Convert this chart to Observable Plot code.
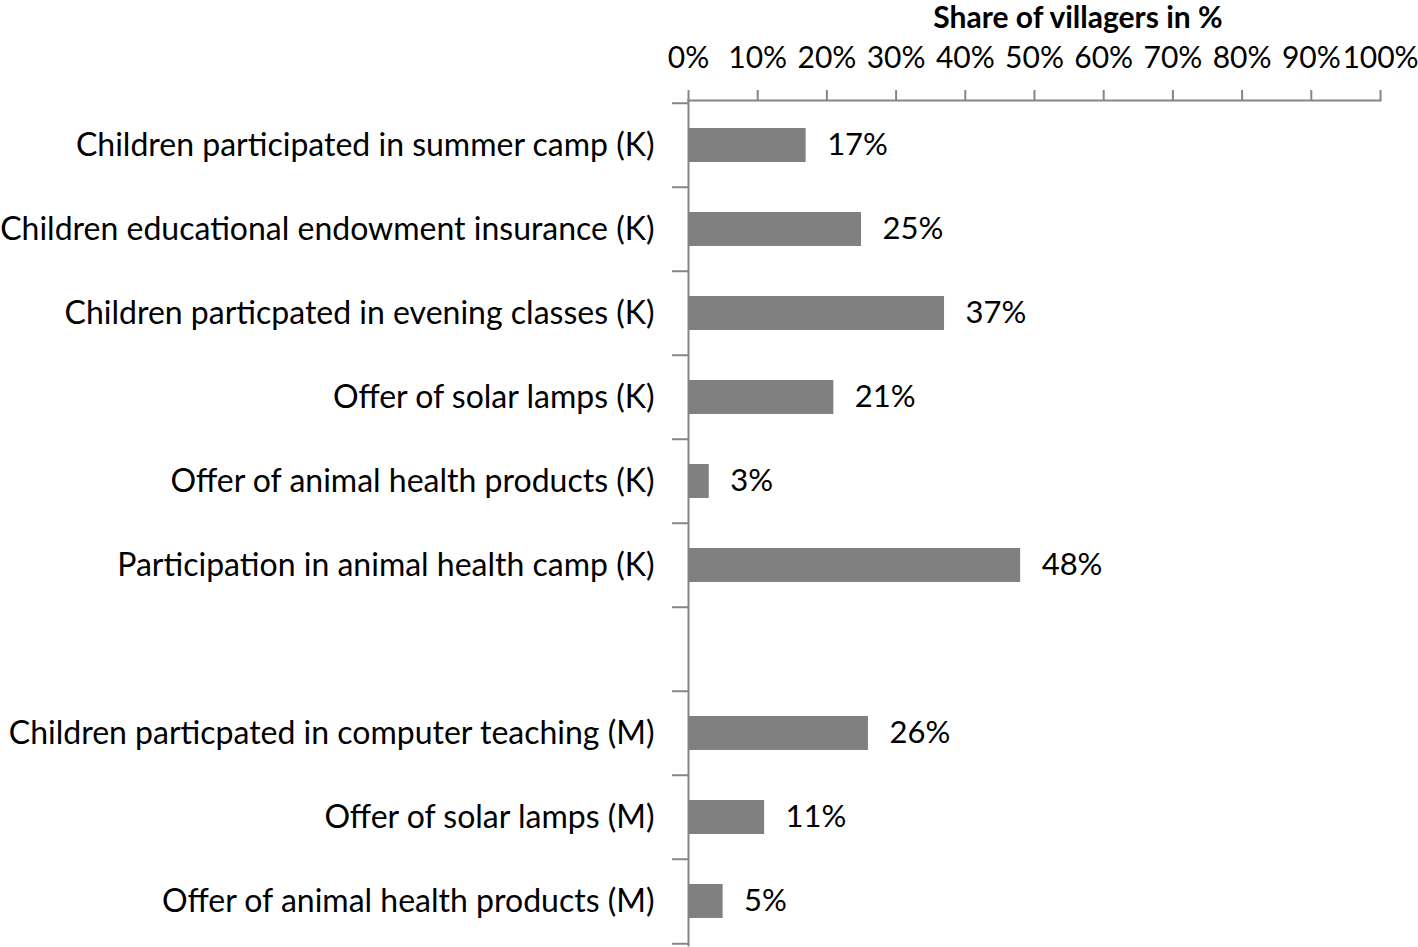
<!DOCTYPE html>
<html>
<head>
<meta charset="utf-8">
<script src="https://cdn.jsdelivr.net/npm/d3@7"></script>
<script src="https://cdn.jsdelivr.net/npm/@observablehq/plot@0.6"></script>
<style>
  html, body { margin: 0; padding: 0; background: #fff; }
  #chart { position: relative; width: 1418px; height: 947px; }
  #title { position: absolute; left: 738px; width: 680px; top: 0px; text-align: center; z-index: 2; line-height: 38px;
           font-family: Lato, sans-serif; font-weight: bold; font-size: 30px; color: #000; margin-top: -3px; }
</style>
</head>
<body>
<div id="chart"><div id="title">Share of villagers in %</div></div>
<script>
const categories = [
  "Children participated in summer camp (K)",
  "Children educational endowment insurance (K)",
  "Children particpated in evening classes (K)",
  "Offer of solar lamps (K)",
  "Offer of animal health products (K)",
  "Participation in animal health camp (K)",
  "",
  "Children particpated in computer teaching (M)",
  "Offer of solar lamps (M)",
  "Offer of animal health products (M)"
];
const values = [0.17, 0.25, 0.37, 0.21, 0.03, 0.48, null, 0.26, 0.11, 0.05];
const xTicks = [0, 0.1, 0.2, 0.3, 0.4, 0.5, 0.6, 0.7, 0.8, 0.9, 1.0];

const data = categories.map((c, i) => ({category: c, value: values[i]})).filter(d => d.value != null);

const W = 1418, H = 947, mL = 688, mR = 38, mT = 100, mB = 2;
const step = (H - mT - mB) / categories.length;
const axisColor = "#868686";
const font = "Lato, sans-serif";

const common = {
  width: W, height: H,
  marginLeft: mL, marginRight: mR, marginTop: mT, marginBottom: mB,
  x: {domain: [0, 1], axis: null},
  y: {domain: categories, paddingInner: 0.6, paddingOuter: 0.3, axis: null}
};

const chart = Plot.plot({
  ...common,
  style: {fontFamily: font, fontSize: "30px", color: "#000", background: "transparent", overflow: "visible"},
  marks: [
    Plot.frame({anchor: "top", stroke: axisColor, strokeWidth: 2}),
    Plot.frame({anchor: "left", stroke: axisColor, strokeWidth: 2}),
    Plot.axisX({anchor: "top", ticks: xTicks, tickFormat: d3.format(".0%"), tickSize: 11, tickPadding: 22,
                stroke: axisColor, strokeWidth: 2, strokeOpacity: 1, fill: "#000", fontSize: 30, label: null}),
    Plot.axisY({anchor: "left", tickSize: 0, tickPadding: 34, fill: "#000", fontSize: 32, label: null,
                tickFormat: d => d}),
    Plot.barX(data, {y: "category", x: "value", fill: "#808080"}),
    Plot.text(data, {y: "category", x: "value", text: d => d3.format(".0%")(d.value),
                     textAnchor: "start", dx: 21, fill: "#000", fontSize: 31})
  ]
});

// y-axis ticks at band boundaries, drawn via the same band scale
const ticksSvg = Plot.plot({
  ...common,
  style: {background: "transparent"},
  marks: [
    Plot.axisY({anchor: "left", tickSize: 16, text: null, dy: -step / 2, stroke: axisColor, strokeWidth: 2, strokeOpacity: 1}),
    Plot.axisY({anchor: "left", ticks: [categories[categories.length - 1]], tickSize: 16, text: null, dy: step / 2,
                stroke: axisColor, strokeWidth: 2, strokeOpacity: 1})
  ]
});
for (const s of [ticksSvg, chart]) {
  s.style.position = "absolute"; s.style.left = "0"; s.style.top = "0";
  document.getElementById("chart").appendChild(s);
}
</script>
</body>
</html>
